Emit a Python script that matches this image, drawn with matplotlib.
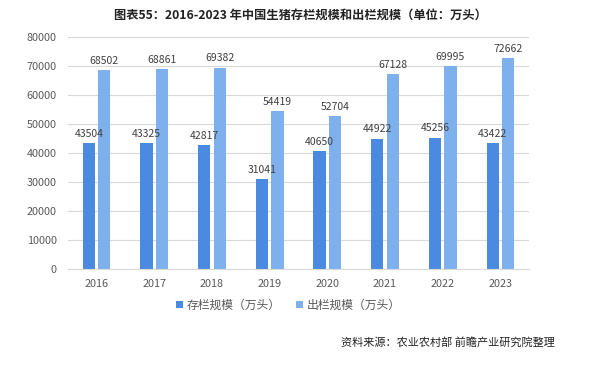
import matplotlib
matplotlib.use("Agg")
import matplotlib.pyplot as plt
import numpy as np

plt.rcParams['font.family'] = ['Noto Sans CJK SC', 'DejaVu Sans']

years = ['2016', '2017', '2018', '2019', '2020', '2021', '2022', '2023']
stock = [43504, 43325, 42817, 31041, 40650, 44922, 45256, 43422]
slaughter = [68502, 68861, 69382, 54419, 52704, 67128, 69995, 72662]
yticks = [0, 10000, 20000, 30000, 40000, 50000, 60000, 70000, 80000]

c1 = '#4a8ae0'
c2 = '#7eb0ee'

fig = plt.figure(figsize=(6, 3.78), dpi=100)
ax = fig.add_axes([0.113, 0.288, 0.769, 0.614])

x = np.arange(len(years))
w = 0.21
off = 0.135
b1 = ax.bar(x - off, stock, w, color=c1, label='存栏规模（万头）')
b2 = ax.bar(x + off, slaughter, w, color=c2, label='出栏规模（万头）')

for xi, v in zip(x - off, stock):
    ax.text(xi, v + 1500, str(v), ha='center', va='bottom', fontsize=7.5, color='#404040')
for xi, v in zip(x + off, slaughter):
    ax.text(xi, v + 1500, str(v), ha='center', va='bottom', fontsize=7.5, color='#404040')

ax.set_xlim(-0.5, len(years) - 0.5)
ax.set_ylim(0, 80000)
ax.set_yticks(yticks)
ax.set_yticklabels([str(t) for t in yticks])
ax.set_xticks(x)
ax.set_xticklabels(years)
ax.tick_params(axis='both', length=0, labelsize=7.8, labelcolor='#595959')
ax.tick_params(axis='y', pad=8)
ax.tick_params(axis='x', pad=7)
ax.grid(axis='y', color='#d9d9d9', linewidth=0.8)
ax.set_axisbelow(True)
for s in ['top', 'right', 'left']:
    ax.spines[s].set_visible(False)
ax.spines['bottom'].set_color('#d9d9d9')

fig.text(0.5, 0.96, '图表55：2016-2023 年中国生猪存栏规模和出栏规模（单位：万头）',
         ha='center', va='center', fontsize=8.8, fontweight='bold', color='#222222')

leg = fig.legend(handles=[b1, b2], loc='center', bbox_to_anchor=(0.48, 0.193), ncol=2,
                 frameon=False, fontsize=8.5, handlelength=0.6, handleheight=0.6,
                 handletextpad=0.3, columnspacing=1.3, labelcolor='#595959')

fig.text(0.925, 0.093, '资料来源：农业农村部 前瞻产业研究院整理', ha='right', va='center',
         fontsize=8, style='italic', color='#222222')

fig.savefig('out.png', dpi=100)
